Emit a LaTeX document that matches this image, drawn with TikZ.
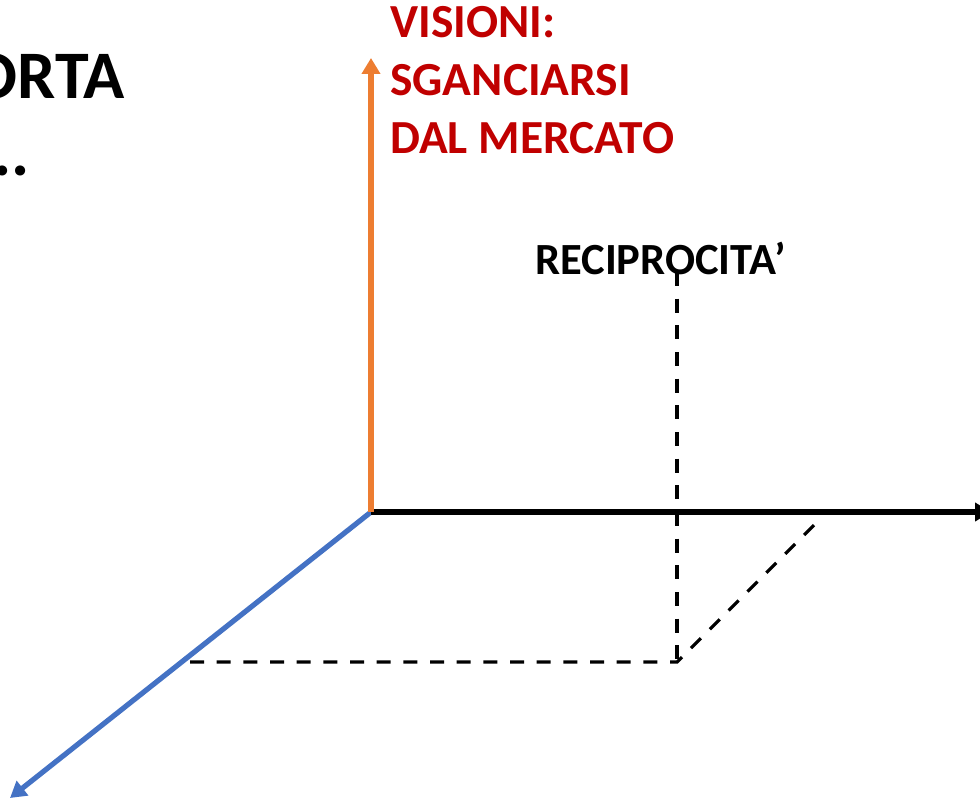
\documentclass[tikz,border=0pt]{standalone}
\usepackage{fontspec}
\setmainfont{Carlito}
\usetikzlibrary{arrows.meta}
\definecolor{visred}{RGB}{192,0,0}
\definecolor{axorange}{RGB}{237,125,49}
\definecolor{axblue}{RGB}{68,114,196}

\begin{document}
\begin{tikzpicture}[x=0.75pt,y=0.75pt,yscale=-1,
	axis/.style={line width=3.9pt,-{Triangle[length=12pt,width=13.5pt]}},
	guide/.style={line width=2.4pt,dash pattern=on 10.5pt off 9.5pt},
	label/.style={inner sep=0pt,font=\bfseries}]
	\useasboundingbox (0,0) rectangle (980,802);

	% Points
	\coordinate (origin) at (371,512);
	\coordinate (vtip) at (371,58);
	\coordinate (htip) at (991,512);
	\coordinate (dtip) at (10,798);
	\coordinate (rtop) at (677,272);
	\coordinate (rfoot) at (677,662);
	\coordinate (rleft) at (190,662);
	\coordinate (rright) at (822,517);

	% Text Node
	\node (orta) [label,anchor=base east,font=\bfseries\fontsize{51}{60}\selectfont] at (125,99) {ORTA};
	% Text Node
	\node (dots) [label,anchor=base east,font=\bfseries\fontsize{51}{60}\selectfont] at (30,176) {..};
	% Text Node
	\node (visioni) [label,anchor=base west,align=left,text=visred,font=\bfseries\fontsize{35.6}{43.5}\selectfont] at (390,154) {VISIONI:\\SGANCIARSI\\DAL MERCATO};
	% Text Node
	\node (recip) [label,anchor=base west,font=\bfseries\fontsize{33.4}{40}\selectfont] at (535,274) {RECIPROCITA’};

	% Connection
	\draw [guide] (rtop) -- (rfoot);
	\draw [guide] (rleft) -- (rfoot) -- (rright);
	% Connection
	\draw [axis,axblue] (origin) -- (dtip);
	\draw [axis,black] (origin) -- (htip);
	\draw [axis,axorange] (origin) -- (vtip);

\end{tikzpicture}
\end{document}
